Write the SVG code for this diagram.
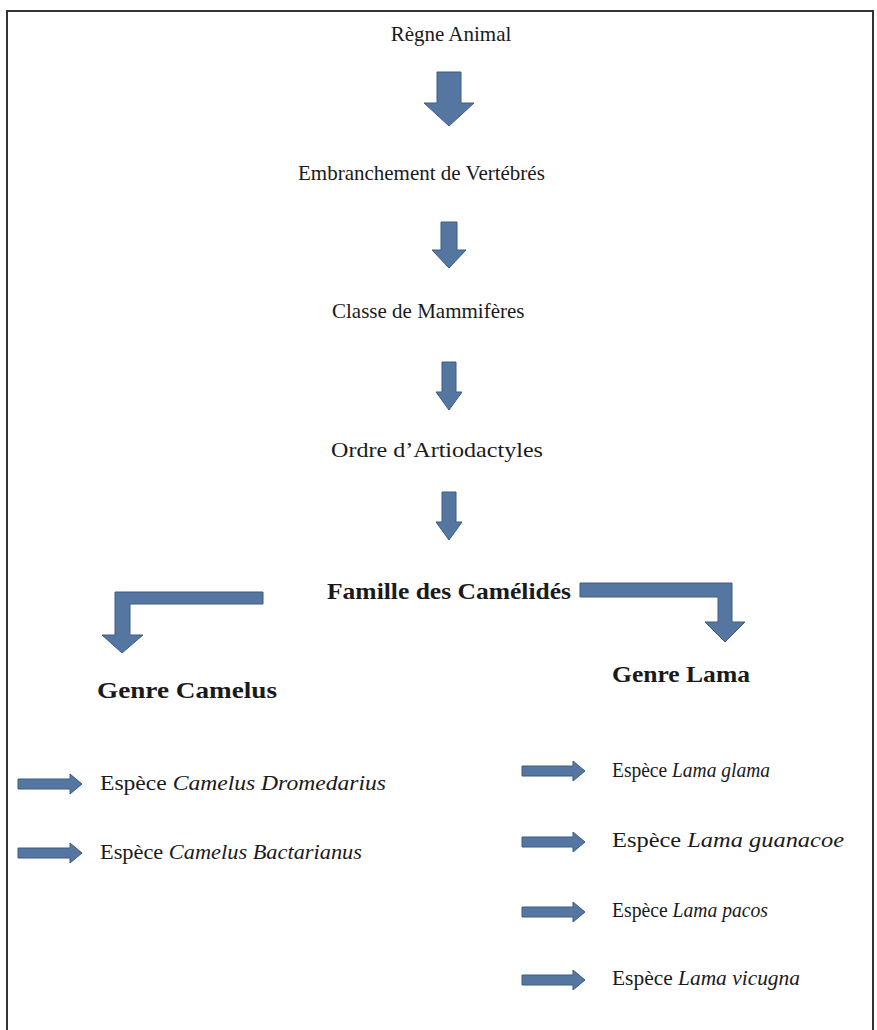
<svg xmlns="http://www.w3.org/2000/svg" width="877" height="1030" viewBox="0 0 877 1030">
<style>
.t{font-family:"Liberation Serif","Times New Roman",serif;font-size:21px;fill:#1a1a1a}
.b{font-weight:bold;font-size:23px}
.i{font-style:italic}
.ar{fill:#5576a0;stroke:#3d5c82;stroke-width:1}
</style>
<rect width="877" height="1030" fill="#fff"/>
<path d="M7 1030 V11 H873 V1030" fill="none" stroke="#333" stroke-width="2"/>
<g id="regne"><text class="t" x="451" y="41" text-anchor="middle">Règne Animal</text></g>
<g id="embranchement"><text class="t" x="298" y="180">Embranchement de Vertébrés</text></g>
<g id="classe"><text class="t" x="332" y="318">Classe de Mammifères</text></g>
<g id="ordre"><text class="t" x="331" y="457" textLength="212" lengthAdjust="spacingAndGlyphs">Ordre d’Artiodactyles</text></g>
<g id="famille"><text class="t b" x="327" y="599" textLength="244" lengthAdjust="spacingAndGlyphs">Famille des Camélidés</text></g>
<g id="genre-camelus"><text class="t b" x="97" y="698" textLength="180" lengthAdjust="spacingAndGlyphs">Genre Camelus</text></g>
<g id="genre-lama"><text class="t b" x="612" y="682" textLength="138" lengthAdjust="spacingAndGlyphs">Genre Lama</text></g>
<g id="sp-dromedarius"><text class="t" x="100" y="790" textLength="286" lengthAdjust="spacingAndGlyphs">Espèce <tspan class="i">Camelus Dromedarius</tspan></text></g>
<g id="sp-bactarianus"><text class="t" x="100" y="859" textLength="262" lengthAdjust="spacingAndGlyphs">Espèce <tspan class="i">Camelus Bactarianus</tspan></text></g>
<g id="sp-glama"><text class="t" x="612" y="777" textLength="158" lengthAdjust="spacingAndGlyphs">Espèce <tspan class="i">Lama glama</tspan></text></g>
<g id="sp-guanacoe"><text class="t" x="612" y="847" textLength="232" lengthAdjust="spacingAndGlyphs">Espèce <tspan class="i">Lama guanacoe</tspan></text></g>
<g id="sp-pacos"><text class="t" x="612" y="917" textLength="156" lengthAdjust="spacingAndGlyphs">Espèce <tspan class="i">Lama pacos</tspan></text></g>
<g id="sp-vicugna"><text class="t" x="612" y="985" textLength="188" lengthAdjust="spacingAndGlyphs">Espèce <tspan class="i">Lama vicugna</tspan></text></g>
<g id="connectors">
<polygon class="ar" points="437,72 461,72 461,103 474,103 449,126 424,103 437,103"/>
<polygon class="ar" points="441,222 457,222 457,250 466,250 449,268 432,250 441,250"/>
<polygon class="ar" points="442,362 456,362 456,392 462,392 449,410 436,392 442,392"/>
<polygon class="ar" points="442,492 456,492 456,522 462,522 449,540 436,522 442,522"/>
<polygon class="ar" points="263,592 263,604 130,604 130,635 143,635 122,653 102,635 115,635 115,592"/>
<polygon class="ar" points="580,583 732,583 732,622 745,622 725,642 705,622 718,622 718,597 580,597"/>
<polygon class="ar" points="18,779 70,779 70,774 82,784 70,794 70,789 18,789"/>
<polygon class="ar" points="18,848 70,848 70,843 82,853 70,863 70,858 18,858"/>
<polygon class="ar" points="522,766 573,766 573,761 585,771 573,781 573,776 522,776"/>
<polygon class="ar" points="522,837 573,837 573,832 585,842 573,852 573,847 522,847"/>
<polygon class="ar" points="522,907 573,907 573,902 585,912 573,922 573,917 522,917"/>
<polygon class="ar" points="522,975 573,975 573,970 585,980 573,990 573,985 522,985"/>
</g>
</svg>
